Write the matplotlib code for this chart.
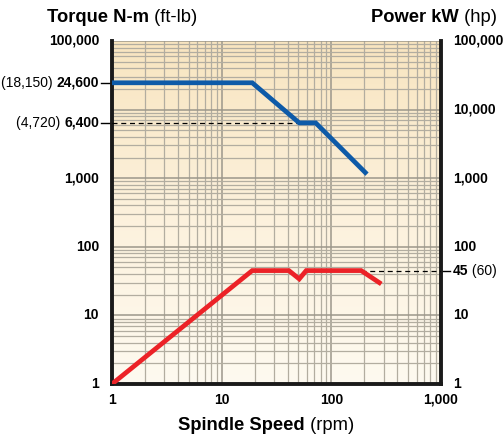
import numpy as np
import matplotlib
matplotlib.use("Agg")
import matplotlib.pyplot as plt
from matplotlib.colors import LinearSegmentedColormap

# ---- data ----
torque_rpm = [1, 19, 51, 72, 204]
torque_nm = [24600, 24600, 6400, 6400, 1210]
power_rpm = [1, 19, 41, 51, 59, 187, 274]
power_kw = [1, 45, 45, 34, 45, 45, 30]

x_ticks = [1, 10, 100, 1000]
x_labels = ["1", "10", "100", "1,000"]
left_ticks = [100000, 1000, 100, 10, 1]
left_labels = ["100,000", "1,000", "100", "10", "1"]
left_marked = [(24600, "(18,150) ", "24,600"), (6400, "(4,720) ", "6,400")]
right_ticks = [100000, 10000, 1000, 100, 10, 1]
right_labels = ["100,000", "10,000", "1,000", "100", "10", "1"]
right_marked = [(45, "45", " (60)")]

torque_ref = 6400
torque_ref_end = 51
power_ref = 45
power_ref_start = 187

FONT = "Liberation Sans"
plt.rcParams['font.family'] = [FONT, 'DejaVu Sans']

fig = plt.figure(figsize=(5.03, 4.38), dpi=100)
fig.patch.set_facecolor("white")
L, R, B, T = 112/503, 441/503, 1 - 384/438, 1 - 41/438
ax = fig.add_axes([L, B, R - L, T - B])
ax.set_xscale("log")
ax.set_yscale("log")
ax.set_xlim(1, 1000)
ax.set_ylim(1, 100000)

# gradient background
cmap = LinearSegmentedColormap.from_list("bg", ["#fefaf0", "#fcf1dc", "#f8e5c0"])
grad = np.linspace(0, 1, 256).reshape(-1, 1)
ax.imshow(grad, cmap=cmap, aspect="auto", extent=[0, 1, 0, 1],
          transform=ax.transAxes, origin="lower", zorder=0)

ax.grid(which="minor", color="#b2ada0", lw=0.9, zorder=1)
ax.grid(which="major", color="#9c978b", lw=1.1, zorder=1)
ax.set_axisbelow(True)

for s in ["left", "right", "bottom"]:
    ax.spines[s].set_linewidth(2.8)
    ax.spines[s].set_color("#1a1a1a")
ax.spines["top"].set_visible(False)

ax.tick_params(which="both", length=0, labelleft=False, labelbottom=False)

# curves
ax.plot(torque_rpm, torque_nm, color="#0d5aa8", lw=3.4, solid_joinstyle="miter", zorder=4)
ax.plot(power_rpm, power_kw, color="#ec2227", lw=3.4, solid_joinstyle="miter", zorder=4)

# dashed reference lines
ax.plot([1, torque_ref_end], [torque_ref, torque_ref], color="black", lw=0.9,
        ls=(0, (4, 3)), zorder=3)
ax.plot([power_ref_start, 1000], [power_ref, power_ref], color="black", lw=0.9,
        ls=(0, (4, 3)), zorder=3)

fig.canvas.draw()
renderer = fig.canvas.get_renderer()

def width_px(s, weight, size):
    t = fig.text(0, 0, s, fontsize=size, fontweight=weight)
    w = t.get_window_extent(renderer).width
    t.remove()
    return w

ylab_trans = ax.get_yaxis_transform()
SZ = 10

def ylabel_left(val, parts):
    off = -13
    for txt, wt in reversed(parts):
        ax.annotate(txt, xy=(0, val), xycoords=ylab_trans, xytext=(off, 0),
                    textcoords="offset pixels", ha="right", va="center",
                    fontsize=SZ, fontweight=wt, annotation_clip=False)
        off -= width_px(txt, wt, SZ)

def ylabel_right(val, parts):
    off = 12
    for txt, wt in parts:
        ax.annotate(txt, xy=(1, val), xycoords=ylab_trans, xytext=(off, 0),
                    textcoords="offset pixels", ha="left", va="center",
                    fontsize=SZ, fontweight=wt, annotation_clip=False)
        off += width_px(txt, wt, SZ)

for v, lab in zip(left_ticks, left_labels):
    ylabel_left(v, [(lab, "bold")])
for v, norm, bold in left_marked:
    ylabel_left(v, [(norm, "normal"), (bold, "bold")])
    ax.plot([-11/329, 0], [v, v], transform=ylab_trans, color="black", lw=1.0, clip_on=False)

for v, lab in zip(right_ticks, right_labels):
    ylabel_right(v, [(lab, "bold")])
for v, bold, norm in right_marked:
    ylabel_right(v, [(bold, "bold"), (norm, "normal")])
    ax.plot([1, 1 + 9/329], [v, v], transform=ylab_trans, color="black", lw=1.0, clip_on=False)

xlab_trans = ax.get_xaxis_transform()
for v, lab in zip(x_ticks, x_labels):
    ax.annotate(lab, xy=(v, 0), xycoords=xlab_trans, xytext=(0, -9),
                textcoords="offset pixels", ha="center", va="top",
                fontsize=SZ, fontweight="bold", annotation_clip=False)

def mixed(x_px, y_px, parts, size):
    x = x_px
    for txt, wt in parts:
        fig.text(x / 503, 1 - y_px / 438, txt, fontsize=size, fontweight=wt,
                 ha="left", va="center")
        x += width_px(txt, wt, size)

TS = 13.2
mixed(47, 17, [("Torque N-m", "bold"), (" (ft-lb)", "normal")], TS)
mixed(371, 17, [("Power kW", "bold"), (" (hp)", "normal")], TS)
mixed(178, 425, [("Spindle Speed", "bold"), (" (rpm)", "normal")], TS)

fig.savefig("out.png", dpi=100)
